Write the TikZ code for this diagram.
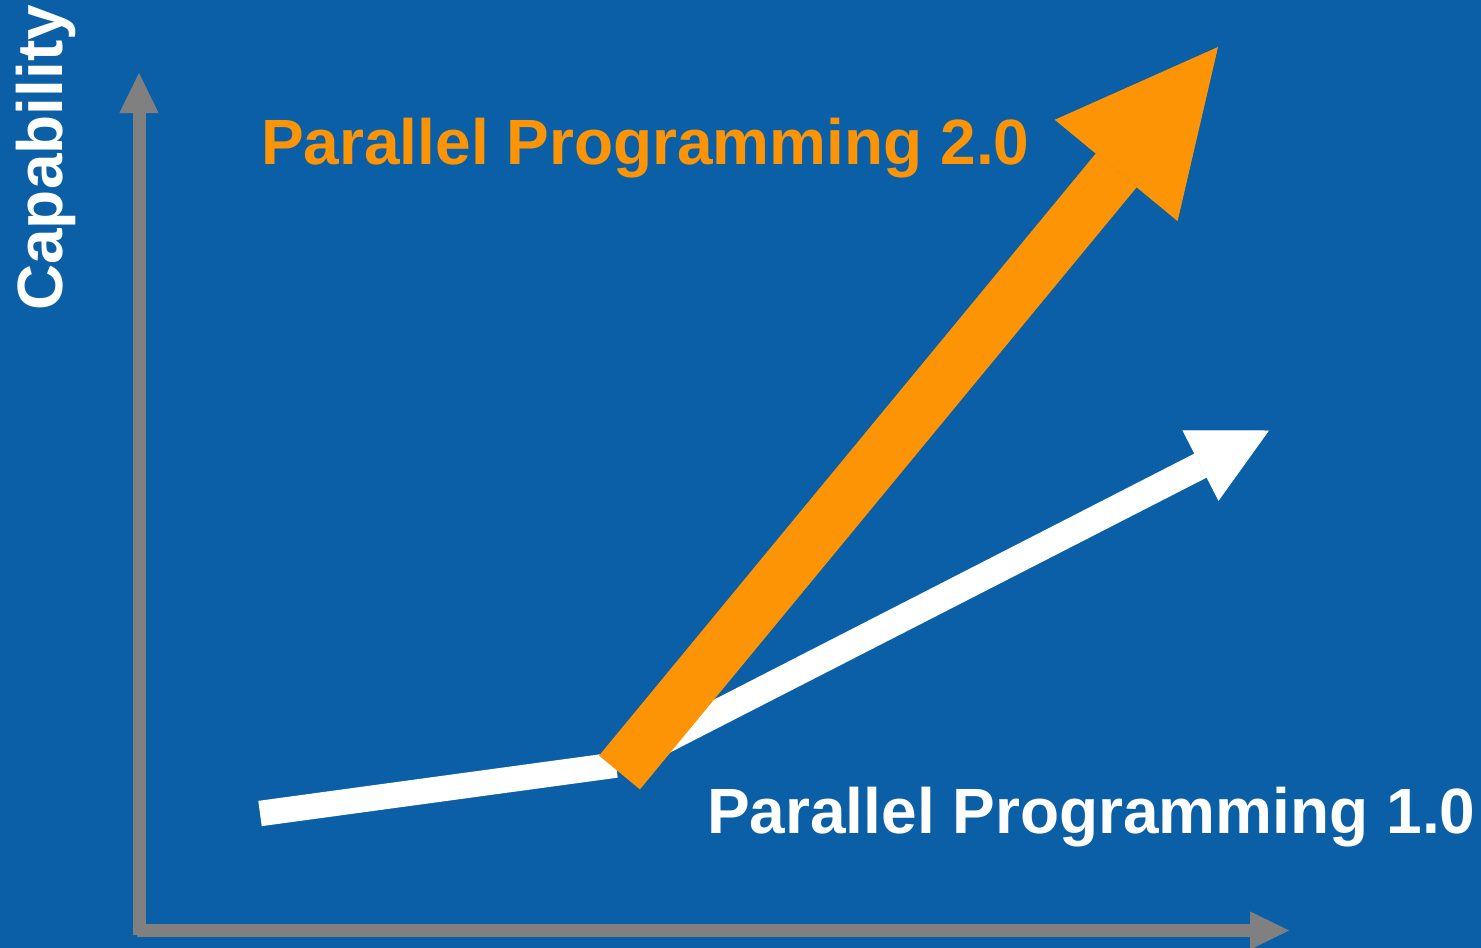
\documentclass[tikz,border=0pt]{standalone}
\usepackage{fontspec}
\setmainfont{Liberation Sans}
\usetikzlibrary{arrows.meta}
\definecolor{bgblue}{RGB}{11,95,167}
\definecolor{axisgray}{RGB}{128,128,128}
\definecolor{pporange}{RGB}{252,148,5}
\tikzset{
  axisline/.style={draw=axisgray, line width=13pt, line cap=butt},
  whiteline/.style={draw=white, line width=25.5pt, line cap=butt},
  label/.style={inner sep=0pt, font=\fontsize{64}{70}\selectfont\bfseries},
}
\begin{document}
\begin{tikzpicture}[x=1pt,y=-1pt]
\fill[bgblue] (0,0) rectangle (1481,948);
\useasboundingbox (0,0) rectangle (1481,948);
% axes
\coordinate (yb) at (139,935);
\coordinate (yt) at (139,73);
\coordinate (xl) at (137,930.5);
\coordinate (xr) at (1289,930.5);
\draw[axisline, -{Triangle[length=40pt,width=39pt,line width=0.8pt]}] (yb) -- (yt);
\draw[axisline, -{Triangle[length=39pt,width=38pt,line width=0.8pt]}] (xl) -- (xr);
% white (1.0)
\coordinate (w0) at (260,813.5);
\coordinate (w1) at (616,765);
\coordinate (w1b) at (640,752.7);
\coordinate (w2) at (1269,430.5);
\draw[whiteline] (w0) -- (w1);
\draw[draw=white, line width=27pt, -{Triangle[length=77pt,width=79pt,line width=0.8pt]}] (w1b) -- (w2);
% orange (2.0)
\coordinate (o0) at (619.5,772.5);
\coordinate (o1) at (1218,47);
\draw[draw=pporange, line width=53pt, -{Triangle[length=160pt,width=159pt,line width=0.8pt]}] (o0) -- (o1);
% labels
\node[label, text=pporange, anchor=base west] (t2) at (261,164) {Parallel Programming 2.0};
\node[label, text=white, anchor=base west] (t1) at (707,833) {Parallel Programming 1.0};
\node[label, text=white, anchor=base west, rotate=90] (cap) at (62,311) {Capability};
\end{tikzpicture}
\end{document}
